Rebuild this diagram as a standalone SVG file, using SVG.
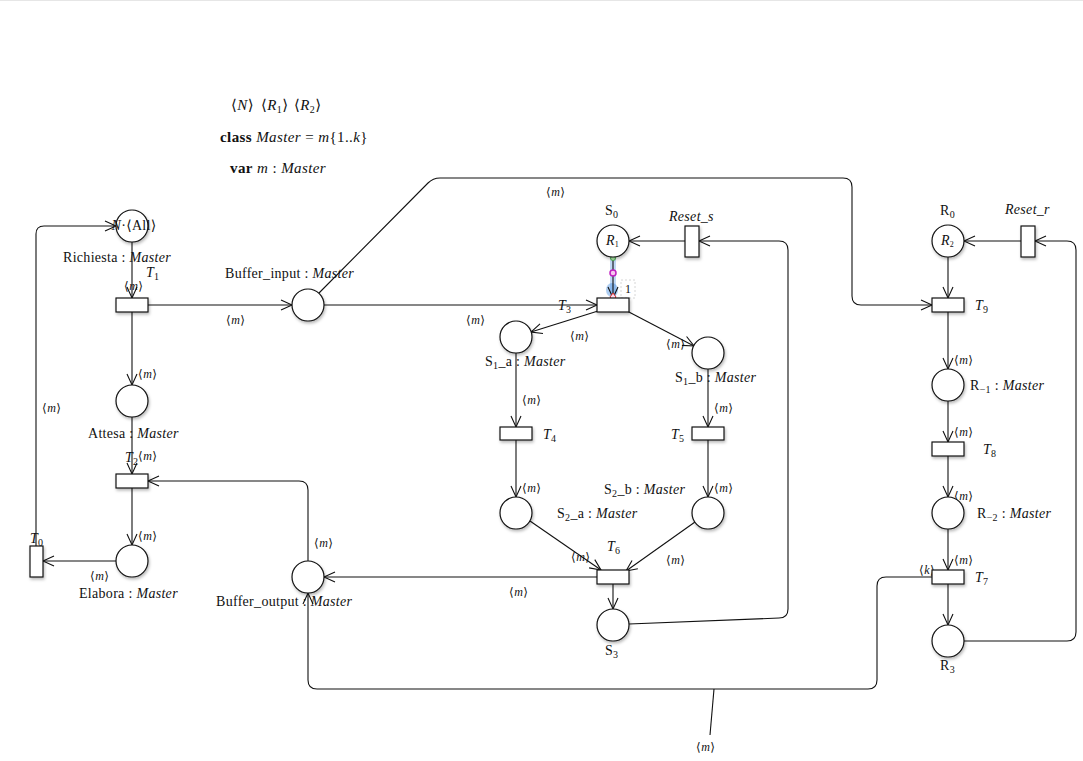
<svg xmlns="http://www.w3.org/2000/svg" width="1083" height="761" viewBox="0 0 1083 761">
<style>
text{font-family:"Liberation Serif","DejaVu Serif",serif;font-size:14px;letter-spacing:0.3px;fill:#111}
.sm{font-size:12px;letter-spacing:0.5px}
.hd{font-size:15px;letter-spacing:0.4px}
.it{font-style:italic}
.b{font-weight:bold}
.pl{fill:#fff;stroke:#111;stroke-width:1.2}
.tr{fill:#fff;stroke:#111;stroke-width:1.2}
.arc{fill:none;stroke:#111;stroke-width:1.1}
</style>
<defs>
<marker id="ar" markerUnits="userSpaceOnUse" markerWidth="14" markerHeight="14" refX="11" refY="5" orient="auto" overflow="visible">
<path d="M0,0 L11,5 L0,10" fill="none" stroke="#111" stroke-width="1.1"/>
</marker>
<filter id="sh" x="-30%" y="-30%" width="160%" height="170%">
<feDropShadow dx="1" dy="2" stdDeviation="1.5" flood-color="#000" flood-opacity="0.28"/>
</filter>
</defs>
<rect width="1083" height="761" fill="#fff"/>
<line x1="0" y1="0.5" x2="1083" y2="0.5" stroke="#e6e6e6"/>

<g id="declarations">
<text class="hd" x="231" y="110">⟨<tspan class="it">N</tspan>⟩</text>
<text class="hd" x="261" y="110">⟨<tspan class="it">R</tspan><tspan dy="3" font-size="10">1</tspan><tspan dy="-3">⟩</tspan></text>
<text class="hd" x="294" y="110">⟨<tspan class="it">R</tspan><tspan dy="3" font-size="10">2</tspan><tspan dy="-3">⟩</tspan></text>
<text class="hd" x="220" y="142"><tspan class="b">class</tspan> <tspan class="it">Master</tspan> = <tspan class="it">m</tspan>{1..<tspan class="it">k</tspan>}</text>
<text class="hd" x="230" y="173"><tspan class="b">var</tspan> <tspan class="it">m</tspan> : <tspan class="it">Master</tspan></text>
</g>

<g id="connectors">
<path class="arc" d="M36,546 V234 Q36,226 44,226 H116" marker-end="url(#ar)"/>
<path class="arc" d="M132,242 V298" marker-end="url(#ar)"/>
<path class="arc" d="M148,305 H292" marker-end="url(#ar)"/>
<path class="arc" d="M132,312 V385" marker-end="url(#ar)"/>
<path class="arc" d="M132,417 V474" marker-end="url(#ar)"/>
<path class="arc" d="M132,488 V545" marker-end="url(#ar)"/>
<path class="arc" d="M116,561 H43" marker-end="url(#ar)"/>
<path class="arc" d="M308,561 V490 Q308,481 299,481 H148" marker-end="url(#ar)"/>
<path class="arc" d="M324,305 H597" marker-end="url(#ar)"/>
<path class="arc" d="M319,293 L428,183 Q433,178 440,178 H843 Q852,178 852,187 V296 Q852,305 861,305 H932" marker-end="url(#ar)"/>
<path class="arc" d="M598,311 L531,332" marker-end="url(#ar)"/>
<path class="arc" d="M627,311 L694,346" marker-end="url(#ar)"/>
<path class="arc" d="M516,353 V427" marker-end="url(#ar)"/>
<path class="arc" d="M708,369 V427" marker-end="url(#ar)"/>
<path class="arc" d="M516,440 V497" marker-end="url(#ar)"/>
<path class="arc" d="M708,440 V497" marker-end="url(#ar)"/>
<path class="arc" d="M530,521 L601,570" marker-end="url(#ar)"/>
<path class="arc" d="M695,522 L626,571" marker-end="url(#ar)"/>
<path class="arc" d="M597,577 H324" marker-end="url(#ar)"/>
<path class="arc" d="M613,584 V609" marker-end="url(#ar)"/>
<path class="arc" d="M629,624 L779,618 Q788,618 788,609 V250 Q788,241 779,241 H699" marker-end="url(#ar)"/>
<path class="arc" d="M685,241 H629" marker-end="url(#ar)"/>
<path d="M613,258 V297" stroke="#4a90e2" stroke-width="6" stroke-opacity="0.35" fill="none"/>
<ellipse cx="612" cy="290" rx="6" ry="7" fill="#4a90e2" fill-opacity="0.45"/>
<path class="arc" d="M613,257 V298" marker-end="url(#ar)"/>
<path class="arc" d="M948,257 V298" marker-end="url(#ar)"/>
<path class="arc" d="M948,312 V369" marker-end="url(#ar)"/>
<path class="arc" d="M948,401 V442" marker-end="url(#ar)"/>
<path class="arc" d="M948,456 V497" marker-end="url(#ar)"/>
<path class="arc" d="M948,529 V570" marker-end="url(#ar)"/>
<path class="arc" d="M948,584 V625" marker-end="url(#ar)"/>
<path class="arc" d="M964,641 H1067 Q1076,641 1076,632 V250 Q1076,241 1067,241 H1035" marker-end="url(#ar)"/>
<path class="arc" d="M1021,241 H964" marker-end="url(#ar)"/>
<path class="arc" d="M932,577 H886 Q877,577 877,586 V680 Q877,689 868,689 H317 Q308,689 308,680 V593" marker-end="url(#ar)"/>
<path class="arc" d="M714,689 L710,735"/>

<text class="sm" x="42" y="412">⟨<tspan class="it">m</tspan>⟩</text>
<text class="sm" x="124" y="290">⟨<tspan class="it">m</tspan>⟩</text>
<text class="sm" x="226" y="324">⟨<tspan class="it">m</tspan>⟩</text>
<text class="sm" x="138" y="378">⟨<tspan class="it">m</tspan>⟩</text>
<text class="sm" x="138" y="460">⟨<tspan class="it">m</tspan>⟩</text>
<text class="sm" x="138" y="540">⟨<tspan class="it">m</tspan>⟩</text>
<text class="sm" x="90" y="580">⟨<tspan class="it">m</tspan>⟩</text>
<text class="sm" x="314" y="547">⟨<tspan class="it">m</tspan>⟩</text>
<text class="sm" x="466" y="324">⟨<tspan class="it">m</tspan>⟩</text>
<text class="sm" x="546" y="196">⟨<tspan class="it">m</tspan>⟩</text>
<text class="sm" x="570" y="340">⟨<tspan class="it">m</tspan>⟩</text>
<text class="sm" x="666" y="348">⟨<tspan class="it">m</tspan>⟩</text>
<text class="sm" x="522" y="404">⟨<tspan class="it">m</tspan>⟩</text>
<text class="sm" x="714" y="412">⟨<tspan class="it">m</tspan>⟩</text>
<text class="sm" x="522" y="492">⟨<tspan class="it">m</tspan>⟩</text>
<text class="sm" x="714" y="492">⟨<tspan class="it">m</tspan>⟩</text>
<text class="sm" x="571" y="561">⟨<tspan class="it">m</tspan>⟩</text>
<text class="sm" x="666" y="564">⟨<tspan class="it">m</tspan>⟩</text>
<text class="sm" x="509" y="596">⟨<tspan class="it">m</tspan>⟩</text>
<text class="sm" x="954" y="364">⟨<tspan class="it">m</tspan>⟩</text>
<text class="sm" x="954" y="436">⟨<tspan class="it">m</tspan>⟩</text>
<text class="sm" x="954" y="500">⟨<tspan class="it">m</tspan>⟩</text>
<text class="sm" x="954" y="564">⟨<tspan class="it">m</tspan>⟩</text>
<text class="sm" x="919" y="574">⟨<tspan class="it">k</tspan>⟩</text>
<text class="sm" x="696" y="751">⟨<tspan class="it">m</tspan>⟩</text>
<rect x="621" y="280" width="14" height="18" fill="none" stroke="#ccc" stroke-width="0.8" stroke-dasharray="2,2"/>
<text class="sm" x="625" y="293" fill="#444">1</text>
<circle cx="613" cy="258" r="2.5" fill="#b6f0b0" stroke="#4caf50" stroke-width="1"/>
<circle cx="613" cy="273" r="3" fill="#f7c6f0" stroke="#c020c0" stroke-width="1.5"/>
<path d="M613,293 L616,297 L613,301 L610,297 Z" fill="#fde" stroke="#e03030" stroke-width="1"/>
</g>

<g id="Richiesta"><circle class="pl" filter="url(#sh)" cx="132" cy="226" r="16"/><text x="134" y="230" text-anchor="middle" font-size="13" letter-spacing="0"><tspan class="it">N</tspan>·⟨All⟩</text><text x="63" y="262">Richiesta : <tspan class="it">Master</tspan></text></g>
<g id="T1"><rect class="tr" filter="url(#sh)" x="116" y="298" width="32" height="14"/><text class="it" x="146" y="277">T<tspan dy="3" font-size="10" font-style="normal">1</tspan></text></g>
<g id="Buffer_input"><circle class="pl" filter="url(#sh)" cx="308" cy="305" r="16"/><text x="225" y="278">Buffer_input : <tspan class="it">Master</tspan></text></g>
<g id="Attesa"><circle class="pl" filter="url(#sh)" cx="132" cy="401" r="16"/><text x="88" y="438">Attesa : <tspan class="it">Master</tspan></text></g>
<g id="T2"><rect class="tr" filter="url(#sh)" x="116" y="474" width="32" height="14"/><text class="it" x="125" y="462">T<tspan dy="3" font-size="10" font-style="normal">2</tspan></text></g>
<g id="Elabora"><circle class="pl" filter="url(#sh)" cx="132" cy="561" r="16"/><text x="79" y="598">Elabora : <tspan class="it">Master</tspan></text></g>
<g id="T0"><rect class="tr" filter="url(#sh)" x="30" y="546" width="13" height="31"/><text class="it" x="30" y="543">T<tspan dy="3" font-size="10" font-style="normal">0</tspan></text></g>
<g id="Buffer_output"><circle class="pl" filter="url(#sh)" cx="308" cy="577" r="16"/><text x="216" y="606">Buffer_output : <tspan class="it">Master</tspan></text></g>
<g id="T3"><rect class="tr" filter="url(#sh)" x="597" y="298" width="32" height="14"/><text class="it" x="558" y="310">T<tspan dy="3" font-size="10" font-style="normal">3</tspan></text></g>
<g id="S0"><circle class="pl" filter="url(#sh)" cx="613" cy="241" r="16"/><text class="it" x="606" y="245" font-size="12" letter-spacing="0">R<tspan dy="2" font-size="8" font-style="normal">1</tspan></text><text x="605" y="215">S<tspan dy="3" font-size="10">0</tspan></text></g>
<g id="Reset_s"><rect class="tr" filter="url(#sh)" x="685" y="226" width="14" height="31"/><text class="it" x="669" y="221" font-size="13">Reset_s</text></g>
<g id="S1_a"><circle class="pl" filter="url(#sh)" cx="516" cy="337" r="16"/><text x="485" y="366">S<tspan dy="3" font-size="10">1</tspan><tspan dy="-3">_a : </tspan><tspan class="it">Master</tspan></text></g>
<g id="S1_b"><circle class="pl" filter="url(#sh)" cx="708" cy="353" r="16"/><text x="675" y="382">S<tspan dy="3" font-size="10">1</tspan><tspan dy="-3">_b : </tspan><tspan class="it">Master</tspan></text></g>
<g id="T4"><rect class="tr" filter="url(#sh)" x="500" y="427" width="32" height="13"/><text class="it" x="543" y="439">T<tspan dy="3" font-size="10" font-style="normal">4</tspan></text></g>
<g id="T5"><rect class="tr" filter="url(#sh)" x="692" y="427" width="32" height="13"/><text class="it" x="671" y="439">T<tspan dy="3" font-size="10" font-style="normal">5</tspan></text></g>
<g id="S2_a"><circle class="pl" filter="url(#sh)" cx="516" cy="513" r="16"/><text x="557" y="518">S<tspan dy="3" font-size="10">2</tspan><tspan dy="-3">_a : </tspan><tspan class="it">Master</tspan></text></g>
<g id="S2_b"><circle class="pl" filter="url(#sh)" cx="708" cy="513" r="16"/><text x="604" y="494">S<tspan dy="3" font-size="10">2</tspan><tspan dy="-3">_b : </tspan><tspan class="it">Master</tspan></text></g>
<g id="T6"><rect class="tr" filter="url(#sh)" x="597" y="570" width="32" height="14"/><text class="it" x="607" y="551">T<tspan dy="3" font-size="10" font-style="normal">6</tspan></text></g>
<g id="S3"><circle class="pl" filter="url(#sh)" cx="613" cy="625" r="16"/><text x="605" y="655">S<tspan dy="3" font-size="10">3</tspan></text></g>
<g id="R0"><circle class="pl" filter="url(#sh)" cx="948" cy="241" r="16"/><text class="it" x="941" y="245" font-size="12" letter-spacing="0">R<tspan dy="2" font-size="8" font-style="normal">2</tspan></text><text x="940" y="215">R<tspan dy="3" font-size="10">0</tspan></text></g>
<g id="Reset_r"><rect class="tr" filter="url(#sh)" x="1021" y="226" width="14" height="31"/><text class="it" x="1005" y="214" font-size="13">Reset_r</text></g>
<g id="T9"><rect class="tr" filter="url(#sh)" x="932" y="298" width="32" height="14"/><text class="it" x="975" y="310">T<tspan dy="3" font-size="10" font-style="normal">9</tspan></text></g>
<g id="R_1"><circle class="pl" filter="url(#sh)" cx="948" cy="385" r="16"/><text x="970" y="390">R<tspan dy="3" font-size="10">−1</tspan><tspan dy="-3"> : </tspan><tspan class="it">Master</tspan></text></g>
<g id="T8"><rect class="tr" filter="url(#sh)" x="932" y="442" width="32" height="14"/><text class="it" x="983" y="454">T<tspan dy="3" font-size="10" font-style="normal">8</tspan></text></g>
<g id="R_2"><circle class="pl" filter="url(#sh)" cx="948" cy="513" r="16"/><text x="977" y="518">R<tspan dy="3" font-size="10">−2</tspan><tspan dy="-3"> : </tspan><tspan class="it">Master</tspan></text></g>
<g id="T7"><rect class="tr" filter="url(#sh)" x="932" y="570" width="32" height="14"/><text class="it" x="975" y="582">T<tspan dy="3" font-size="10" font-style="normal">7</tspan></text></g>
<g id="R3"><circle class="pl" filter="url(#sh)" cx="948" cy="641" r="16"/><text x="940" y="670">R<tspan dy="3" font-size="10">3</tspan></text></g>
</svg>
